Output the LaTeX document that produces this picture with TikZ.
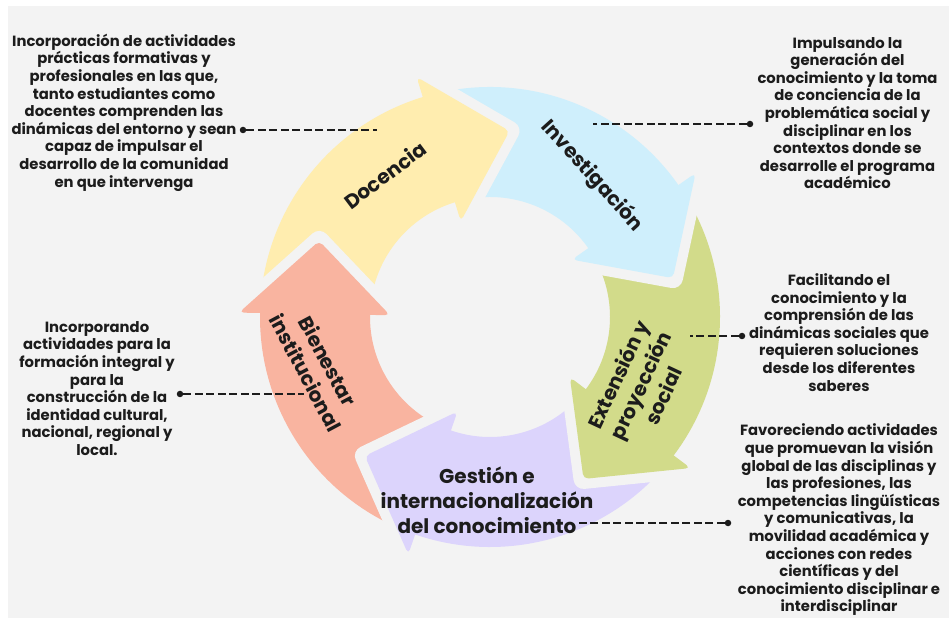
\documentclass[tikz,border=0pt]{standalone}
\usepackage{fontspec}
\setmainfont{Poppins}
\usepackage{tikz}
\usetikzlibrary{arrows.meta}
\usetikzlibrary{calc}

\definecolor{bgray}{RGB}{243,243,243}
\definecolor{inkdark}{RGB}{28,28,28}
\definecolor{docyel}{RGB}{255,237,175}
\definecolor{invblu}{RGB}{207,239,252}
\definecolor{extgrn}{RGB}{210,219,138}
\definecolor{gesvio}{RGB}{220,212,252}
\definecolor{bienpk}{RGB}{249,180,160}

\begin{document}
\begin{tikzpicture}[x=1pt, y=1pt,
        callout_style/.style={align=center, text=inkdark, font=\fontsize{14.8}{17.6}\selectfont\bfseries},
        label_style/.style={align=center, text=inkdark, font=\fontsize{20}{25}\selectfont\bfseries},
        dot_style/.style={circle, fill=inkdark, inner sep=0pt, minimum size=6.5pt},
        dash_style/.style={draw=inkdark, line width=1.7pt, dash pattern=on 8pt off 3.5pt}]

        \useasboundingbox (0,0) rectangle (949,618);
        \fill[white] (0,0) rectangle (949,618);
        \fill[bgray] (8,0) rectangle (949,612);

        % ring of arrows
        \begin{scope}[shift={(490,301)}]
        \foreach \col [count=\k from 0] in {docyel,invblu,extgrn,gesvio,bienpk}{
            \pgfmathsetmacro{\T}{176-72*\k}
            \pgfmathsetmacro{\H}{104-72*\k}
            \fill[\col] (\T:230) arc[start angle=\T, end angle=\H, radius=230pt]
                -- (\H:120) arc[start angle=\H, end angle=\T, radius=120pt] -- cycle;
        }
        \foreach \col [count=\k from 0] in {docyel,invblu,extgrn,gesvio,bienpk}{
            \pgfmathsetmacro{\H}{107-72*\k}
            \pgfmathsetmacro{\P}{84-72*\k}
            \draw[bgray, line width=20pt, line cap=round, line join=round] (\H:251) -- (\P:187) -- (\H:100);
            \fill[\col, rounded corners=5pt] (\H:251) -- (\P:187) -- (\H:100) -- cycle;
        }
        \end{scope}

        \node [label_style, rotate=37] (l1) at (385,443) {Docencia};
        \node [label_style, rotate=-48] (l2) at (592,442) {Investigación};
        \node [label_style, rotate=65] (l3) at (640,233) {Extensión y\\proyección\\social};
        \node [label_style] (l4) at (487,118) {Gestión e\\internacionalización\\del conocimiento};
        \node [label_style, rotate=-62] (l5) at (317,251) {Bienestar\\institucional};

        \node [callout_style] (c1) at (124,505.5) {Incorporación de actividades\\prácticas formativas y\\profesionales en las que,\\tanto estudiantes como\\docentes comprenden las\\dinámicas del entorno y sean\\capaz de impulsar el\\desarrollo de la comunidad\\en que intervenga};
        \node [callout_style] (c2) at (847.5,505) {Impulsando la\\generación del\\conocimiento y la toma\\de conciencia de la\\problemática social y\\disciplinar en los\\contextos donde se\\desarrolle el programa\\académico};
        \node [callout_style] (c3) at (839,285.5) {Facilitando el\\conocimiento y la\\comprensión de las\\dinámicas sociales que\\requieren soluciones\\desde los diferentes\\saberes};
        \node [callout_style] (c4) at (839,98) {Favoreciendo actividades\\que promuevan la visión\\global de las disciplinas y\\las profesiones, las\\competencias lingüísticas\\y comunicativas, la\\movilidad académica y\\acciones con redes\\científicas y del\\conocimiento disciplinar e\\interdisciplinar};
        \node [callout_style] (c5) at (97,229.5) {Incorporando\\actividades para la\\formación integral y\\para la\\construcción de la\\identidad cultural,\\nacional, regional y\\local.};

        \node [dot_style] (d1) at (243,488) {};
        \node [dot_style] (d2) at (750,494) {};
        \node [dot_style] (d3) at (742,282) {};
        \node [dot_style] (d4) at (728,95) {};
        \node [dot_style] (d5) at (180,224) {};
        \coordinate (e1) at (377,488);
        \coordinate (e2) at (593,494);
        \coordinate (e3) at (690,282);
        \coordinate (e4) at (577,95);
        \coordinate (e5) at (304,224);
        \draw [dash_style] (d1) -- (e1);
        \draw [dash_style] (d2) -- (e2);
        \draw [dash_style] (d3) -- (e3);
        \draw [dash_style] (d4) -- (e4);
        \draw [dash_style] (d5) -- (e5);
\end{tikzpicture}
\end{document}
